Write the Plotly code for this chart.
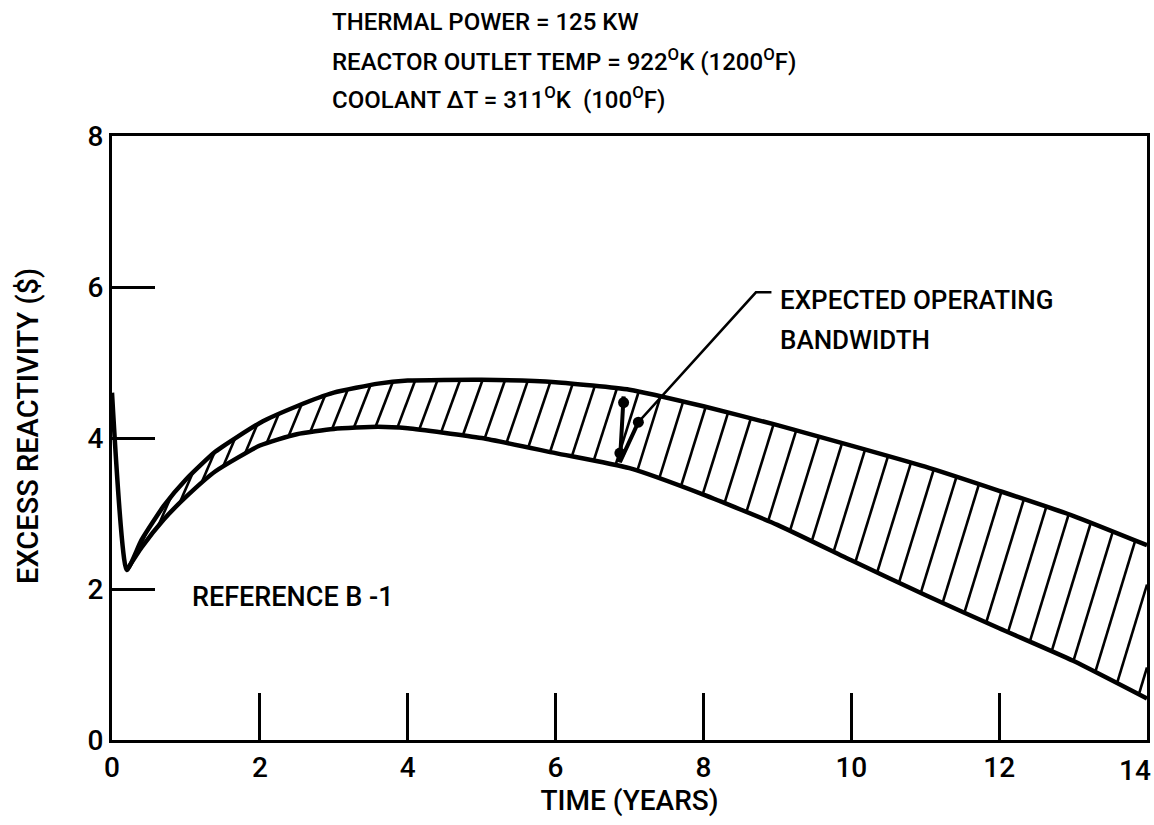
import numpy as np
import plotly.graph_objects as go

# Excess reactivity band vs. time
years_upper = [0.0, 0.2, 0.4, 0.7, 1.0, 1.4, 2.0, 2.5, 3.0, 3.6, 4.0, 5.0, 6.0, 7.0, 8.0, 9.0, 10.0, 11.0, 12.0, 13.0, 14.0]
react_upper = [4.6, 2.25, 2.65, 3.1, 3.45, 3.82, 4.2, 4.42, 4.6, 4.72, 4.76, 4.77, 4.74, 4.64, 4.42, 4.17, 3.9, 3.62, 3.3, 2.97, 2.58]

years_lower = [0.2, 0.4, 0.7, 1.0, 1.4, 2.0, 2.5, 3.0, 3.6, 4.0, 5.0, 6.0, 7.0, 8.0, 9.0, 10.0, 11.0, 12.0, 13.0, 14.0]
react_lower = [2.25, 2.55, 2.92, 3.22, 3.56, 3.9, 4.05, 4.12, 4.15, 4.13, 4.0, 3.8, 3.6, 3.25, 2.85, 2.38, 1.92, 1.48, 1.05, 0.55]

# Mark drawn across the band and the leader running to its label
mark_x = [6.92, 6.87, 7.12]
mark_y = [4.55, 3.68, 4.21]
leader_x = [7.12, 8.71, 8.92]
leader_y = [4.21, 5.93, 5.93]
blob_x = [6.92, 7.12, 6.87]
blob_y = [4.47, 4.21, 3.80]

x_ticks = [0, 2, 4, 6, 8, 10, 12, 14]
y_ticks = [0, 2, 4, 6, 8]

FONT = "Roboto, Liberation Sans, sans-serif"
W, H = 1154, 825
ML, MR, MT, MB = 112, 7, 136, 85
px_x = (W - ML - MR) / 14.0
px_y = (H - MT - MB) / 8.0

xu = np.array(years_upper)
yu = np.array(react_upper)
xl = np.array(years_lower)
yl = np.array(react_lower)


def upper(x):
    return np.interp(x, xu[1:], yu[1:])


def lower(x):
    return np.interp(x, xl, yl)


# Hatch lines: start on the lower edge, rise steeply until meeting the upper edge
hx, hy = [], []
for c in np.arange(0.32, 14.0, 0.295):
    slope_px = np.interp(c, [0, 3, 7, 14], [2.2, 2.5, 3.2, 3.3])
    k = slope_px * px_x / px_y  # pixel slope expressed in data units
    y0 = lower(c)
    xs = np.linspace(c, 14.0, 3000)
    ys = y0 + k * (xs - c)
    above = np.where(ys >= upper(xs))[0]
    x1 = xs[above[0]] if len(above) else 14.0
    hx += [c, x1, None]
    hy += [y0, y0 + k * (x1 - c), None]

fig = go.Figure()
fig.add_trace(go.Scatter(x=hx, y=hy, mode="lines",
                         line=dict(color="black", width=2.6), hoverinfo="skip"))
fig.add_trace(go.Scatter(x=years_upper, y=react_upper, mode="lines",
                         line=dict(color="black", width=4.5, shape="spline", smoothing=0.5)))
fig.add_trace(go.Scatter(x=years_lower, y=react_lower, mode="lines",
                         line=dict(color="black", width=4.5, shape="spline", smoothing=0.5)))
fig.add_trace(go.Scatter(x=mark_x, y=mark_y, mode="lines",
                         line=dict(color="black", width=4)))
fig.add_trace(go.Scatter(x=leader_x, y=leader_y, mode="lines",
                         line=dict(color="black", width=2.5)))
fig.add_trace(go.Scatter(x=blob_x, y=blob_y, mode="markers",
                         marker=dict(color="black", size=11)))

TICK_FONT = dict(family=FONT, size=28, color="black", weight=500)
axis_common = dict(showgrid=False, zeroline=False, showline=True, linecolor="black",
                   linewidth=3, mirror=True, ticks="inside", tickcolor="black",
                   tickwidth=3, automargin=False, tickfont=TICK_FONT)

# The last x label sits against the frame edge, so it is placed separately
x_text = [str(v) for v in x_ticks[:-1]] + [""]
fig.update_xaxes(range=[0, 14], tickvals=x_ticks, ticktext=x_text,
                 ticklen=47, **axis_common,
                 title=dict(text="TIME (YEARS)",
                            font=dict(family=FONT, size=28, color="black", weight=500),
                            standoff=2))
fig.update_yaxes(range=[0, 8], tickvals=y_ticks, ticktext=[str(v) for v in y_ticks],
                 ticklen=43, **axis_common)
fig.add_annotation(x=x_ticks[-1], yref="paper", y=0, xanchor="right", yanchor="top",
                   xshift=6, yshift=-12, showarrow=False, text=str(x_ticks[-1]),
                   font=TICK_FONT)

plot_w = W - ML - MR
plot_h = H - MT - MB
fig.add_annotation(xref="paper", yref="paper", x=(28 - ML) / plot_w, y=(740 - 426) / plot_h,
                   xanchor="center", yanchor="middle", textangle=-90, showarrow=False,
                   text="EXCESS REACTIVITY ($)",
                   font=dict(family=FONT, size=29, color="black", weight=500))

header = ["THERMAL POWER = 125 KW",
          "REACTOR OUTLET TEMP = 922<sup>O</sup>K (1200<sup>O</sup>F)",
          "COOLANT ΔT = 311<sup>O</sup>K  (100<sup>O</sup>F)"]
for i, line in enumerate(header):
    fig.add_annotation(xref="paper", yref="paper", x=(330 - ML) / plot_w,
                       y=(740 - (22 + 38 * i)) / plot_h,
                       xanchor="left", yanchor="middle", showarrow=False, text=line,
                       font=dict(family=FONT, size=24, color="black", weight=500))

for i, line in enumerate(["EXPECTED OPERATING", "BANDWIDTH"]):
    fig.add_annotation(xref="paper", yref="paper", x=(778 - ML) / plot_w,
                       y=(740 - (300 + 40 * i)) / plot_h,
                       xanchor="left", yanchor="middle", showarrow=False, text=line,
                       font=dict(family=FONT, size=26, color="black", weight=500))

fig.add_annotation(x=1.05, y=1.9, xanchor="left", yanchor="middle", showarrow=False,
                   text="REFERENCE B -1",
                   font=dict(family=FONT, size=27, color="black", weight=500))

fig.update_layout(width=W, height=H, margin=dict(l=ML, r=MR, t=MT, b=MB, autoexpand=False),
                  paper_bgcolor="white", plot_bgcolor="white", showlegend=False,
                  font=dict(family=FONT, color="black"))

fig.write_html("out.html")
